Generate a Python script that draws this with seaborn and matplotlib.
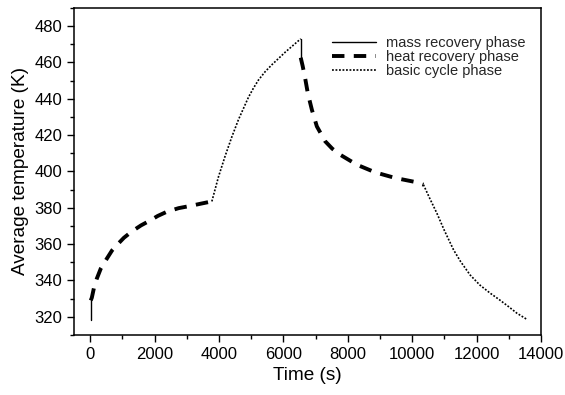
import matplotlib
matplotlib.use("Agg")
import matplotlib.pyplot as plt
import seaborn as sns
import pandas as pd
from matplotlib.ticker import MultipleLocator

# mass recovery phase (short vertical jumps)
mass1_t = [20, 20]
mass1_T = [318.2, 329.0]
mass2_t = [6540, 6540]
mass2_T = [473.0, 462.6]

# heat recovery phase
heat1_t = [20, 53, 120, 208, 330, 519, 680, 832, 1050, 1298, 1580, 1863, 2100, 2382, 2750, 3106, 3450, 3780]
heat1_T = [329.0, 330.5, 336.0, 341.0, 346.5, 352.0, 356.5, 359.5, 363.5, 367.0, 370.3, 373.0, 375.5, 377.8, 379.8, 381.0, 382.3, 383.5]
heat2_t = [6540, 6600, 6680, 6760, 6885, 7040, 7298, 7520, 7764, 8282, 8851, 9472, 10093, 10350]
heat2_T = [462.6, 458.0, 451.0, 443.0, 434.0, 424.8, 416.6, 412.5, 409.2, 403.7, 399.5, 396.4, 394.2, 392.7]

# basic cycle phase
basic1_t = [3780, 3985, 4193, 4400, 4606, 4916, 5070, 5227, 5430, 5643, 6056, 6540]
basic1_T = [383.5, 397.0, 408.5, 419.0, 428.5, 440.8, 445.8, 450.3, 454.8, 458.7, 465.6, 473.0]
basic2_t = [10350, 10550, 10767, 11000, 11286, 11500, 11800, 12100, 12422, 12700, 13000, 13250, 13560]
basic2_T = [392.7, 385.0, 377.0, 367.5, 356.8, 350.5, 343.0, 337.5, 333.0, 329.5, 325.5, 322.0, 318.6]

sns.set_style("ticks")
plt.rcParams["font.family"] = ["Liberation Sans", "DejaVu Sans"]

fig = plt.figure(figsize=(5.65, 3.95), dpi=100)
ax = fig.add_axes([0.131, 0.152, 0.8265, 0.828])

segments = [
    (mass1_t, mass1_T, "mass recovery phase", dict(lw=1.0, ls="-")),
    (heat1_t, heat1_T, "heat recovery phase", dict(lw=2.8, ls=(0, (3.2, 2.4)))),
    (basic1_t, basic1_T, "basic cycle phase", dict(lw=1.2, ls=(0, (1.1, 1.0)))),
    (mass2_t, mass2_T, None, dict(lw=1.0, ls="-")),
    (heat2_t, heat2_T, None, dict(lw=2.8, ls=(0, (3.2, 2.4)))),
    (basic2_t, basic2_T, None, dict(lw=1.2, ls=(0, (1.1, 1.0)))),
]
for t, T, name, style in segments:
    df = pd.DataFrame({"Time": t, "Temp": T})
    sns.lineplot(x="Time", y="Temp", data=df, ax=ax, sort=False, estimator=None,
                 errorbar=None, color="black", linewidth=style["lw"],
                 linestyle=style["ls"], label=name)

ax.set_xlim(-500, 14000)
ax.set_ylim(310, 490)
ax.xaxis.set_major_locator(MultipleLocator(2000))
ax.xaxis.set_minor_locator(MultipleLocator(1000))
ax.yaxis.set_major_locator(MultipleLocator(20))
ax.yaxis.set_minor_locator(MultipleLocator(10))
ax.tick_params(which="major", length=5, width=1, labelsize=12, direction="out",
               color="black", labelcolor="black")
ax.tick_params(which="minor", length=3, width=1, direction="out", color="black")
for s in ax.spines.values():
    s.set_linewidth(1.1)
    s.set_color("black")
ax.set_xlabel("Time (s)", fontsize=13.7, color="black")
ax.set_ylabel("Average temperature (K)", fontsize=13.7, color="black")

ax.legend(loc="upper right", frameon=False, fontsize=10.5, handlelength=3.0,
          handletextpad=0.7, labelspacing=0.0, bbox_to_anchor=(0.995, 0.955))

plt.savefig("out.png", dpi=100)
